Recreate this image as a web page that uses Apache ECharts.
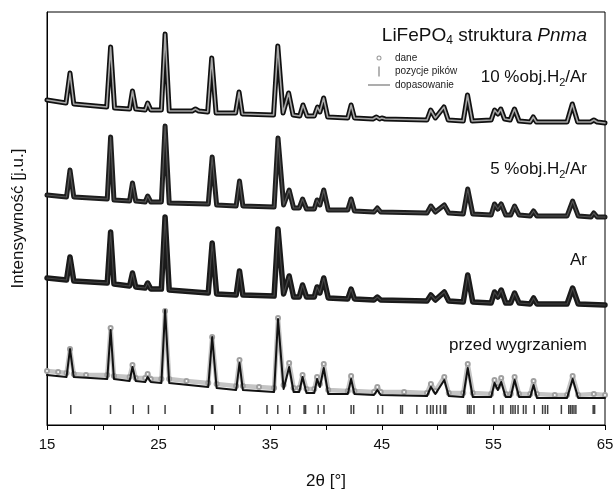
<!DOCTYPE html>
<html>
<head>
<meta charset="utf-8">
<script src="https://cdn.jsdelivr.net/npm/echarts@6/dist/echarts.min.js"></script>
<style>
  html, body { margin: 0; padding: 0; background: #fff; }
  #chart { width: 615px; height: 492px; }
</style>
</head>
<body>
<div id="chart"></div>
<script>
// 2theta axis ticks
const xTicks = [15, 20, 25, 30, 35, 40, 45, 50, 55, 60, 65];

// patterns, [2theta, intensity] in stacked units (each pattern shifted up)
const pattern10 = [
  [15, 325], [16.7, 322], [17.06, 352], [17.4, 321], [20.35, 318], [20.7, 378], [21.05, 317],
  [22.4, 316], [22.66, 334], [22.95, 316], [23.8, 315], [24.02, 322], [24.3, 315],
  [25.25, 315], [25.58, 391], [25.95, 314], [28.0, 314], [28.3, 316], [28.6, 314],
  [29.4, 313], [29.76, 367], [30.15, 312], [31.9, 312], [32.21, 333], [32.5, 311],
  [35.3, 310], [35.68, 379], [36.15, 312], [36.65, 332], [37.05, 310], [37.65, 309],
  [37.94, 320], [38.3, 309], [38.95, 309], [39.24, 318], [39.45, 313], [39.79, 327],
  [40.15, 308], [41.95, 307], [42.25, 320], [42.55, 307], [44.2, 306], [44.52, 308],
  [44.8, 306], [45.0, 307], [45.3, 306], [49.05, 305], [49.38, 315], [49.8, 307],
  [50.57, 318], [50.95, 305], [52.3, 304], [52.68, 330], [53.1, 304], [54.8, 305],
  [55.11, 315], [55.4, 311], [55.66, 316], [56.0, 306], [56.5, 305], [56.89, 316],
  [57.3, 304], [58.3, 303], [58.57, 308], [58.85, 303], [61.6, 303], [62.07, 321],
  [62.55, 303], [63.7, 303], [64.0, 305], [64.3, 303], [65, 302]
];

const pattern5 = [
  [15, 230], [16.75, 228], [17.06, 255], [17.4, 228], [20.4, 226], [20.7, 288], [21.0, 225],
  [22.4, 224], [22.66, 242], [22.95, 224], [23.8, 223], [24.02, 229], [24.3, 223],
  [25.25, 223], [25.58, 299], [25.95, 222], [29.45, 221], [29.8, 268], [30.2, 220],
  [31.95, 219], [32.25, 244], [32.55, 219], [35.35, 218], [35.7, 287], [36.2, 220],
  [36.7, 235], [37.1, 217], [37.6, 217], [37.9, 226], [38.25, 216], [38.95, 216],
  [39.2, 225], [39.45, 220], [39.8, 235], [40.2, 215], [41.95, 215], [42.25, 226],
  [42.55, 214], [44.3, 213], [44.6, 217], [44.9, 213], [49.05, 212], [49.4, 219],
  [49.8, 213], [50.6, 220], [51.0, 212], [52.3, 211], [52.7, 236], [53.15, 211],
  [54.8, 210], [55.1, 221], [55.4, 216], [55.7, 221], [56.1, 210], [56.55, 210],
  [56.9, 219], [57.3, 210], [58.3, 209], [58.6, 214], [58.9, 209], [61.6, 209],
  [62.1, 224], [62.6, 209], [63.75, 208], [64.0, 212], [64.3, 208], [65, 208]
];

const patternAr = [
  [15, 147], [16.75, 145], [17.06, 168], [17.4, 144], [20.4, 142], [20.7, 193], [21.0, 141],
  [22.4, 139], [22.66, 152], [22.95, 138], [23.8, 137], [24.02, 142], [24.3, 136],
  [25.25, 136], [25.58, 208], [25.95, 135], [29.45, 132], [29.8, 182], [30.2, 131],
  [31.95, 130], [32.25, 154], [32.55, 130], [35.35, 129], [35.7, 196], [36.2, 131],
  [36.7, 149], [37.1, 128], [37.6, 128], [37.9, 140], [38.25, 128], [38.95, 128],
  [39.2, 138], [39.45, 132], [39.8, 147], [40.2, 127], [41.95, 126], [42.25, 136],
  [42.55, 126], [44.3, 125], [44.6, 128], [44.9, 125], [49.05, 124], [49.4, 130],
  [49.8, 125], [50.6, 133], [51.0, 124], [52.3, 123], [52.7, 150], [53.15, 123],
  [54.8, 122], [55.1, 133], [55.4, 128], [55.7, 135], [56.1, 122], [56.55, 122],
  [56.9, 132], [57.3, 122], [58.3, 121], [58.6, 127], [58.9, 121], [61.6, 121],
  [62.1, 137], [62.6, 121], [65, 120]
];

// before annealing: measured points and the fitted curve differ visibly
const przedData = [
  [15, 54], [16, 53], [16.75, 52], [17.06, 76], [17.4, 51], [18.5, 50], [20.4, 50], [20.7, 97],
  [21.0, 49], [22.4, 48], [22.66, 60], [22.95, 47], [23.8, 47], [24.02, 51], [24.3, 46],
  [25.25, 46], [25.58, 114], [25.95, 46], [27.5, 44], [29.45, 42], [29.8, 88], [30.2, 41],
  [31.95, 39], [32.25, 65], [32.55, 39], [34, 38], [35.35, 37], [35.7, 107], [36.2, 40],
  [36.7, 62], [37.1, 37], [37.6, 37], [37.9, 50], [38.25, 36], [38.95, 36], [39.2, 48],
  [39.45, 41], [39.8, 61], [40.2, 35], [41.95, 34], [42.25, 49], [42.55, 34], [44.3, 33],
  [44.6, 38], [44.9, 33], [47, 33], [49.05, 32], [49.4, 41], [49.8, 34], [50.6, 48],
  [51.0, 32], [52.3, 32], [52.7, 61], [53.15, 32], [54.8, 31], [55.1, 45], [55.4, 38],
  [55.7, 47], [56.1, 31], [56.55, 31], [56.9, 48], [57.3, 31], [58.3, 31], [58.6, 44],
  [58.9, 31], [60.5, 30], [61.6, 30], [62.1, 49], [62.6, 30], [64, 31], [65, 30]
];

const przedFit = [
  [15, 50], [16.75, 48], [17.06, 76], [17.4, 48], [20.4, 46], [20.7, 95], [21.0, 46],
  [22.4, 44], [22.66, 58], [22.95, 44], [23.8, 43], [24.02, 48], [24.3, 43],
  [25.25, 42], [25.58, 115], [25.95, 42], [29.45, 38], [29.8, 88], [30.2, 37],
  [31.95, 35], [32.25, 62], [32.55, 35], [35.35, 33], [35.7, 106], [36.2, 36],
  [36.7, 58], [37.1, 33], [37.6, 33], [37.9, 48], [38.25, 32], [38.95, 32],
  [39.2, 46], [39.45, 38], [39.8, 57], [40.2, 31], [41.95, 31], [42.25, 46],
  [42.55, 31], [44.3, 30], [44.6, 35], [44.9, 30], [49.05, 29], [49.4, 38],
  [49.8, 31], [50.6, 45], [51.0, 29], [52.3, 28], [52.7, 57], [53.15, 28],
  [54.8, 28], [55.1, 42], [55.4, 35], [55.7, 43], [56.1, 28], [56.55, 28],
  [56.9, 45], [57.3, 28], [58.3, 28], [58.6, 40], [58.9, 27], [61.6, 27],
  [62.1, 46], [62.6, 27], [65, 27]
];

// Bragg peak positions (LiFePO4, Pnma)
const peakPositions = [
  17.13, 20.69, 22.73, 24.09, 25.58, 29.75, 29.85, 32.28, 34.71, 35.68, 36.75, 38.04, 38.17,
  39.30, 39.82, 42.25, 42.48, 44.65, 45.07, 46.69, 46.85, 48.14, 49.05, 49.37, 49.6, 49.92,
  50.25, 50.57, 50.73, 52.68, 52.84, 53.0, 53.26, 55.04, 55.65, 55.85, 56.56, 56.75, 56.95,
  57.21, 57.69, 57.92, 58.66, 59.41, 59.64, 59.86, 61.09, 61.75, 61.9, 62.06, 62.22, 62.39,
  63.94, 64.07
];
const peakMarkLevel = 15.5;

const font = 'Arial, "Liberation Sans", Helvetica, sans-serif';

function curve(name, data, color, width, z) {
  return {
    type: 'line', name: name, data: data, z: z,
    symbol: 'none', showSymbol: false, silent: true,
    lineStyle: { color: color, width: width, join: 'round', cap: 'round' },
    itemStyle: { color: color }
  };
}

function label(text, top, size) {
  return {
    text: text, right: 28, top: top, padding: 0,
    textStyle: {
      fontFamily: font, fontSize: size, fontWeight: 'normal', color: '#111',
      rich: {
        n: { fontFamily: font, fontSize: size, color: '#111', lineHeight: 22 },
        s: { fontFamily: font, fontSize: Math.round(size * 0.62), color: '#111', verticalAlign: 'bottom', lineHeight: 11 },
        i: { fontFamily: font, fontSize: size, fontStyle: 'italic', color: '#111', lineHeight: 22 }
      }
    }
  };
}

const przedDataSeries = curve('dane', przedData, '#c4c4c4', 4.5, 2);
przedDataSeries.symbol = 'emptyCircle';
przedDataSeries.showSymbol = true;
przedDataSeries.symbolSize = 4;
przedDataSeries.itemStyle = { color: '#a0a0a0', borderWidth: 1 };

const chart = echarts.init(document.getElementById('chart'));
chart.setOption({
  animation: false,
  backgroundColor: '#fff',
  title: [
    label('{n|LiFePO}{s|4}{n| struktura }{i|Pnma}', 25, 19),
    label('{n|10 %obj.H}{s|2}{n|/Ar}', 66, 17),
    label('{n|5 %obj.H}{s|2}{n|/Ar}', 158, 17),
    label('{n|Ar}', 249, 17),
    label('{n|przed wygrzaniem}', 334, 17)
  ],
  legend: {
    orient: 'vertical', left: 368, top: 53, padding: 0,
    itemWidth: 22, itemHeight: 10, itemGap: 3.5,
    selectedMode: false,
    textStyle: { fontFamily: font, fontSize: 10, color: '#222' },
    data: [
      { name: 'dane',
        icon: 'path://M0,0M10,10M7.5,5A2.5,2.5,0,1,1,2.5,5A2.5,2.5,0,1,1,7.5,5ZM6.5,5A1.5,1.5,0,1,0,3.5,5A1.5,1.5,0,1,0,6.5,5Z',
        itemStyle: { color: '#999' } },
      { name: 'pozycje pików', icon: 'path://M10.5,0L11.5,0L11.5,10L10.5,10Z', itemStyle: { color: '#444' } },
      { name: 'dopasowanie', icon: 'path://M0,4.2L22,4.2L22,5.8L0,5.8Z', itemStyle: { color: '#999' } }
    ]
  },
  grid: {
    left: 47, right: 10, top: 12, bottom: 67,
    show: true, borderColor: '#000', borderWidth: 1,
    outerBoundsMode: 'none'
  },
  xAxis: {
    type: 'value', min: xTicks[0], max: xTicks[xTicks.length - 1], interval: 5,
    name: '2θ [°]', nameLocation: 'middle', nameGap: 48,
    nameTextStyle: { fontFamily: font, fontSize: 17, color: '#111' },
    axisLine: { lineStyle: { color: '#000', width: 1 } },
    axisTick: { show: true, inside: false, length: 5, lineStyle: { color: '#000' } },
    axisLabel: {
      fontFamily: font, fontSize: 15, color: '#111', margin: 12,
      formatter: function (v) { return (v - 15) % 10 === 0 ? String(v) : ''; }
    },
    splitLine: { show: false }
  },
  yAxis: {
    type: 'value', min: 0, max: 413,
    name: 'Intensywność [j.u.]', nameLocation: 'middle', nameRotate: 90, nameGap: 20,
    nameTextStyle: { fontFamily: font, fontSize: 17, color: '#111' },
    axisLine: { show: true, lineStyle: { color: '#000', width: 1 } },
    axisTick: { show: false },
    axisLabel: { show: false },
    splitLine: { show: false }
  },
  series: [
    curve('dane', pattern10, '#111', 5, 2),
    curve('dopasowanie', pattern10, '#a8a8a8', 1.6, 3),
    curve('dane', pattern5, '#1e1e1e', 5, 2),
    curve('dopasowanie', pattern5, '#555', 1.2, 3),
    curve('dane', patternAr, '#1a1a1a', 5.5, 2),
    curve('dopasowanie', patternAr, '#444', 1.2, 3),
    przedDataSeries,
    curve('dopasowanie', przedFit, '#111', 2, 3),
    {
      type: 'scatter', name: 'pozycje pików', silent: true, z: 2,
      symbol: 'rect', symbolSize: [1.5, 9],
      itemStyle: { color: '#111' },
      data: peakPositions.map(function (p) { return [p, peakMarkLevel]; })
    }
  ]
});
</script>
</body>
</html>
